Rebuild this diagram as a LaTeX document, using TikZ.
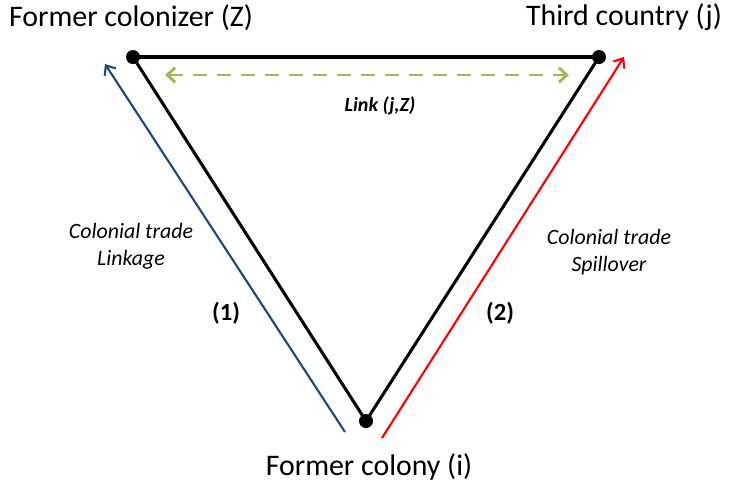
\documentclass[tikz,border=0pt]{standalone}
\usepackage{fontspec}
\setmainfont{Carlito}
\usetikzlibrary{arrows.meta}
\definecolor{linkblue}{RGB}{31,73,125}
\definecolor{linkgreen}{RGB}{155,187,89}
\begin{document}
\begin{tikzpicture}[x=0.75pt,y=-0.75pt,
  vertex/.style={circle,fill=black,inner sep=0pt,minimum size=10.5pt},
  side/.style={line width=2.3pt,black},
  flow/.style={line width=1.6pt,-{Straight Barb[length=6pt,width=10pt,line width=1.6pt]}},
  place/.style={font=\fontsize{22.4}{24}\selectfont,inner sep=0pt},
  note/.style={font=\fontsize{16.4}{20}\selectfont\itshape,align=center,inner sep=0pt},
  tag/.style={font=\fontsize{18.5}{20}\selectfont\bfseries,inner sep=0pt}]
\useasboundingbox (0,0) rectangle (737,490);

% corners of the triangle
\node[vertex] (Z) at (133,57) {};
\node[vertex] (J) at (599,57) {};
\node[vertex] (I) at (366,421) {};

% triangle sides
\draw[side] (Z.center) -- (J.center);
\draw[side] (Z.center) -- (I.center);
\draw[side] (J.center) -- (I.center);

% country labels
\node[place] (tZ) at (131,18) {Former colonizer (Z)};
\node[place] (tJ) at (624,17) {Third country (j)};
\node[place] (tI) at (369,467) {Former colony (i)};

% trade flows along the sides
\coordinate (b0) at (345,432);
\coordinate (b1) at (105,64);
\coordinate (r0) at (382,438);
\coordinate (r1) at (624,57);
\draw[flow,linkblue] (b0) -- (b1);
\draw[flow,red] (r0) -- (r1);

% link between j and Z
\coordinate (g0) at (165,75);
\coordinate (g1) at (569,75);
\draw[linkgreen,line width=2.2pt,dash pattern=on 11pt off 7pt,
  {Straight Barb[length=6pt,width=11pt,line width=2.2pt]}-{Straight Barb[length=6pt,width=11pt,line width=2.2pt]}]
  (g0) -- (g1);
\node[font=\fontsize{15}{17}\selectfont\bfseries\itshape,inner sep=0pt] (lk) at (380,106) {Link (j,Z)};

% flow descriptions
\node[note] (n1) at (131,246) {Colonial trade\\Linkage};
\node[note] (n2) at (609,252) {Colonial trade\\Spillover};
\node[tag] (t1) at (226,313) {(1)};
\node[tag] (t2) at (500,313) {(2)};
\end{tikzpicture}
\end{document}
